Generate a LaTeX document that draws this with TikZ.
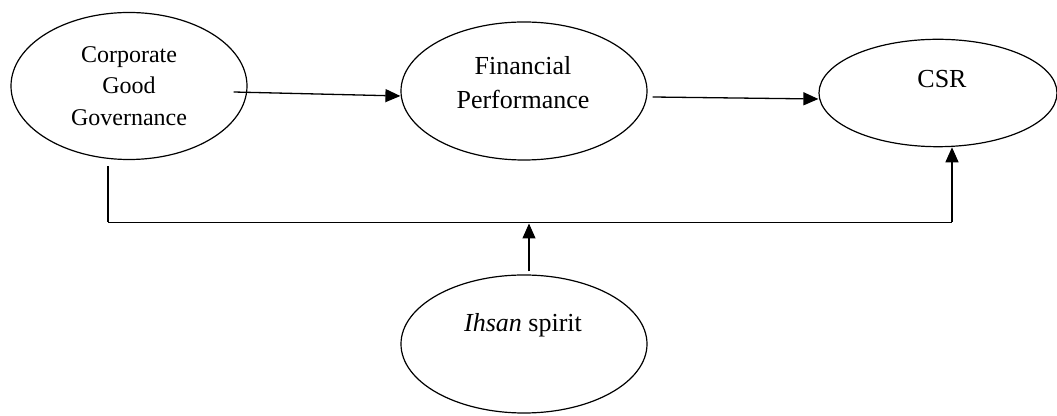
\documentclass[tikz,border=0pt]{standalone}
\usepackage{fontspec}
\setmainfont{Liberation Serif}
\usetikzlibrary{arrows.meta, shapes.geometric}

\begin{document}
\begin{tikzpicture}[
                    x=0.5pt, y=-0.5pt,
                    line width=0.65pt,
                    bubble/.style={draw, ellipse, inner sep=0pt, line width=0.6pt},
                    caption/.style={align=center, inner sep=0pt, font=\fontsize{13}{17}\selectfont},
                    link/.style={-{Triangle[length=7.5pt,width=6.5pt]}}
                ]
                  \useasboundingbox (0,0) rectangle (1057,416);
                  \node[bubble, minimum width=118pt, minimum height=73.5pt, align=center,
                        font=\fontsize{12}{15.75}\selectfont] (cgg) at (129,86) {Corporate\\Good\\Governance};
                  \node[bubble, minimum width=123pt, minimum height=69pt] (fp) at (524,91) {};
                  \node[caption] (fplabel) at (523,83) {Financial\\Performance};
                  \node[bubble, minimum width=119pt, minimum height=53.7pt] (csr) at (938,93) {};
                  \node[caption] (csrlabel) at (942,79) {CSR};
                  \node[bubble, minimum width=123pt, minimum height=69pt] (ihsan) at (524,344) {};
                  \node[caption] (ihsanlabel) at (523,325) {\textit{Ihsan} spirit};
                  \coordinate (barL) at (108,222.5);
                  \coordinate (barR) at (952,222.5);
                  \coordinate (join) at (529,223.5);
                  \draw[link] ([shift={(-14,6)}]cgg.east) -- ([shift={(0,5)}]fp.west);
                  \draw[link] ([shift={(5,6)}]fp.east) -- ([shift={(0,6)}]csr.west);
                  \draw ([shift={(-21,6)}]cgg.south) -- (barL);
                  \draw[line width=0.85pt] (barL) -- (barR);
                  \draw[link] (barR) -- (barR |- csr.south);
                  \draw[link] ([shift={(5,-3)}]ihsan.north) -- (join);
                \end{tikzpicture}
\end{document}
